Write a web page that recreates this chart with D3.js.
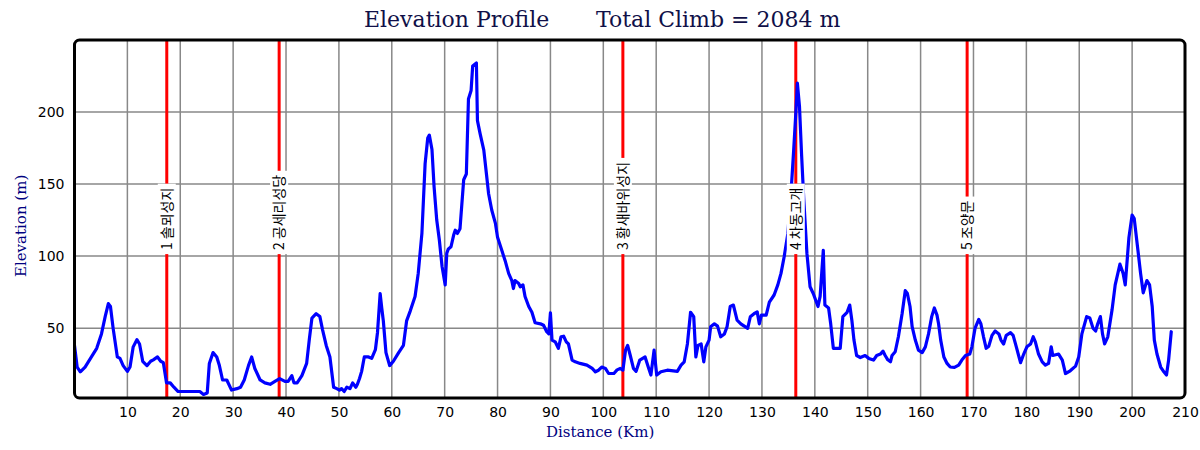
<!DOCTYPE html>
<html><head><meta charset="utf-8">
<script src="https://cdn.jsdelivr.net/npm/d3@7"></script>
<style>body{margin:0;background:#fff}</style>
</head><body>
<svg id="c" width="1200" height="450"></svg>
<script>
// ---- data ----
const distanceKm = [0,0.5,1.1,2.0,3.2,4.2,5.1,5.8,6.4,6.8,7.3,8.1,8.6,9.2,10.0,10.5,11.1,11.8,12.3,12.9,13.7,14.4,14.9,15.7,16.3,16.8,17.4,18.1,18.8,19.6,20.6,22.5,23.7,24.4,25.1,25.5,26.2,26.9,27.4,28.0,28.8,29.7,30.7,31.4,32.1,32.9,33.5,34.1,35.1,36.0,37.0,37.9,38.8,39.8,40.4,41.1,41.5,42.1,43.0,43.9,44.4,44.9,45.7,46.4,46.9,47.6,48.3,49.0,49.6,50.1,50.5,51.0,51.5,52.1,52.6,53.2,53.5,53.9,54.3,54.8,55.6,56.2,56.9,57.3,57.8,58.1,58.4,58.9,59.6,60.3,61.3,62.2,62.8,63.5,64.4,65.0,65.7,66.3,66.8,67.1,67.6,68.0,68.5,69.0,69.5,70.1,70.4,70.7,71.2,71.7,72.0,72.4,72.9,73.6,74.1,74.5,75.0,75.3,76.0,76.2,76.7,77.4,77.9,78.3,78.9,79.6,80.0,80.8,81.5,82.1,82.7,83.0,83.3,84.0,84.3,84.8,85.2,85.9,86.5,87.1,88.1,88.7,89.3,89.7,90.0,90.3,90.9,91.5,92.0,92.5,93.0,93.4,94.1,94.7,95.6,96.9,97.9,98.5,99.1,99.7,100.4,101.0,102.0,102.6,103.2,103.7,104.2,104.6,105.1,105.7,106.2,106.9,107.9,108.5,109.0,109.6,110.1,110.9,112.1,114.0,114.7,115.3,115.9,116.5,117.1,117.5,117.9,118.5,119.0,119.4,120.0,120.3,121.0,121.6,122.2,122.9,123.4,124.0,124.6,125.3,126.0,126.8,127.3,127.8,128.5,129.1,129.5,129.9,130.8,131.4,132.3,133.0,133.6,134.2,134.9,135.6,136.0,136.4,136.7,137.1,137.5,137.9,138.5,139.1,139.7,140.6,141.0,141.6,141.9,142.6,143.0,143.5,144.8,145.3,146.1,146.6,147.0,147.4,147.9,148.6,149.5,150.2,151.1,151.7,152.4,152.9,153.3,153.8,154.3,154.6,155.2,155.8,156.5,157.1,157.5,158.0,158.4,159.0,159.6,160.3,160.9,161.5,162.1,162.6,163.1,163.4,163.8,164.4,165.0,165.6,166.4,167.2,167.8,168.5,169.3,169.7,170.3,171.0,171.4,171.9,172.4,172.9,173.5,174.1,174.8,175.2,175.7,176.2,177.0,177.5,178.1,178.9,179.5,180.1,180.8,181.3,181.7,182.3,183.0,183.6,184.2,184.7,185.0,186.1,186.8,187.4,188.3,189.3,189.9,190.5,191.4,192.0,192.6,193.1,193.5,194.0,194.4,194.8,195.4,196.2,196.8,197.7,198.3,198.7,199.4,200.0,200.4,201.1,201.6,202.1,202.8,203.3,203.8,204.2,204.7,205.4,206.0,206.5,206.9,207.4];
const elevationM = [38,23,19.7,23,30,36,46,58,67,65,50,30,29,24,20,23,37,42,39,27,24,27,28,30,27,26,12,12,9,6,6,6,6,4,5,25.5,33,30,24,14,14,7,8,9,14,24,30,22,14,12,11,13,15,13,13,17,12,12,17,25.5,42,57,60,58,49,38,30,9,8,7,8,6,9,8,12,9,11,15,20,30,30,29,35,47,74,64,55,33,24,27,33,38,55,62,72,88,116,164,182,184,174,148,125,111,93,80,102,105,106.5,114.6,118,115.7,119,153,157,209,215,232,234,194,185,173.6,157,143.5,132,122.7,113,104,96,88,83,77.5,83,81,78.7,80,72,65,61,53.7,53,52,47.5,46,60.6,41.7,40.5,36,44,44.4,40.5,39,27.8,26.6,25.5,24.3,22,19.7,20.8,23,22,18.5,18.5,21,22,20.8,34.7,38,31,22,20,27.8,30,23,17.4,34.7,17.4,19.7,20.8,20,24.3,26.6,39,61,58,30,38,39,26.6,37,41.7,51,53,51.4,44,46,51,65,66,55.5,53,51,49.8,57.9,60,61.3,53,59,59,68,73,80,88,99.5,115.7,150,173.6,199,220,203.7,170,140,102,78.7,74,65,72,104,66,64,53,36,36,58,61,66,55.5,41.7,31,29.6,31,29,27.8,31,32,34,31,28,26.6,31,33.6,44,60,76,74,65,51,41.7,34.7,33,37,46,58,64,59,53,41.7,30,25.5,23,22.7,24.3,27.8,31,32,37,50,56,53,44,36,37.5,45,48,46,41.7,39,45,46.8,45,37,26,32,37,39,44,40.5,32,26.6,24.3,25.5,37,31,32,27.8,18.5,20.4,23.6,30,46,58,57,50,48,53,58,46,39,44,62.5,80,94.4,88,80,113,128.5,126,104,88,74.5,83,80,65,41.7,32,23,19.7,17.4,27.8,47.5];
const markerKm = [17.45, 38.7, 103.7, 136.4, 168.8];
const markerNames = ["1 솔뫼성지", "2 공세리성당", "3 황새바위성지", "4 차동고개", "5 조양문"];
const xTickValues = [10,20,30,40,50,60,70,80,90,100,110,120,130,140,150,160,170,180,190,200,210];
const yTickValues = [50,100,150,200];
const titleLeft = "Elevation Profile";
const titleRight = "Total Climb = 2084 m";
const xAxisTitle = "Distance (Km)";
const yAxisTitle = "Elevation (m)";

// ---- layout ----
const L = 74.5, R = 1185, T = 40, B = 398;
const svg = d3.select("#c");
const x = d3.scaleLinear().domain([0, 210]).range([L, R]);
const y = d3.scaleLinear().domain([1.5, 250]).range([B, T]);

function fitText(sel, target) {
  const n = sel.node();
  const w = n.getComputedTextLength();
  if (Math.abs(w - target) / target > 0.02) {
    sel.attr("textLength", target).attr("lengthAdjust", "spacingAndGlyphs");
  }
}

// grid
svg.append("g").selectAll("line")
  .data(xTickValues.filter(d => d < 210)).join("line")
  .attr("x1", d => x(d)).attr("x2", d => x(d))
  .attr("y1", T).attr("y2", B)
  .attr("stroke", "#888").attr("stroke-width", 1.5);
svg.append("g").selectAll("line")
  .data(yTickValues).join("line")
  .attr("x1", L).attr("x2", R)
  .attr("y1", d => y(d)).attr("y2", d => y(d))
  .attr("stroke", "#888").attr("stroke-width", 1.5);

// axes (labels only)
const xAxis = d3.axisBottom(x).tickValues(xTickValues).tickSize(0).tickPadding(9).tickFormat(d3.format("d"));
const gx = svg.append("g").attr("transform", `translate(0,${B})`).call(xAxis);
gx.select(".domain").remove();
gx.selectAll("text").attr("font-family", "DejaVu Sans").attr("font-size", 14).attr("fill", "#000");

const yAxis = d3.axisLeft(y).tickValues(yTickValues).tickSize(0).tickPadding(10).tickFormat(d3.format("d"));
const gy = svg.append("g").attr("transform", `translate(${L},0)`).call(yAxis);
gy.select(".domain").remove();
gy.selectAll("text").attr("font-family", "DejaVu Sans").attr("font-size", 14).attr("fill", "#000");

// clip
svg.append("clipPath").attr("id", "clip").append("rect")
  .attr("x", L).attr("y", T).attr("width", R - L).attr("height", B - T);

// marker lines
svg.append("g").attr("clip-path", "url(#clip)").selectAll("line")
  .data(markerKm).join("line")
  .attr("x1", d => x(d)).attr("x2", d => x(d))
  .attr("y1", T).attr("y2", B)
  .attr("stroke", "#ff0000").attr("stroke-width", 3);

// profile
const pts = distanceKm.map((d, i) => [d, elevationM[i]]);
svg.append("path").datum(pts)
  .attr("clip-path", "url(#clip)")
  .attr("fill", "none").attr("stroke", "#0000ff").attr("stroke-width", 3.2)
  .attr("stroke-linejoin", "round").attr("stroke-linecap", "round")
  .attr("d", d3.line().x(d => x(d[0])).y(d => y(d[1])));

// marker labels
const lg = svg.append("g");
markerKm.forEach((k, i) => {
  const g = lg.append("g").attr("transform", `translate(${x(k)},${y(100) - 6}) rotate(-90)`);
  const rect = g.append("rect").attr("fill", "#fff");
  const t = g.append("text").text(markerNames[i])
    .attr("x", 0).attr("y", 0).attr("dy", "0.36em")
    .attr("font-family", "'Noto Sans CJK KR', 'DejaVu Sans'")
    .attr("font-size", 14).attr("fill", "#000");
  const w = t.node().getComputedTextLength();
  rect.attr("x", -4).attr("y", -9).attr("width", w + 8).attr("height", 18);
});

// frame
svg.append("rect").attr("x", L).attr("y", T).attr("width", R - L).attr("height", B - T)
  .attr("rx", 5).attr("ry", 5)
  .attr("fill", "none").attr("stroke", "#000").attr("stroke-width", 3);

// titles
const tl = svg.append("text").text(titleLeft).attr("x", 364).attr("y", 27)
  .attr("font-family", "'DejaVu Serif'").attr("font-size", 22).attr("fill", "#101048");
fitText(tl, 189);
const tr = svg.append("text").text(titleRight).attr("x", 596).attr("y", 27)
  .attr("font-family", "'DejaVu Serif'").attr("font-size", 22).attr("fill", "#101048");
fitText(tr, 240);

const xt = svg.append("text").text(xAxisTitle).attr("x", 546).attr("y", 437)
  .attr("font-family", "'DejaVu Serif'").attr("font-size", 15).attr("fill", "#000080");
fitText(xt, 107);
const yt = svg.append("text").text(yAxisTitle)
  .attr("transform", "translate(26,277) rotate(-90)")
  .attr("font-family", "'DejaVu Serif'").attr("font-size", 15).attr("fill", "#000080");
fitText(yt, 104);
</script>
</body></html>
